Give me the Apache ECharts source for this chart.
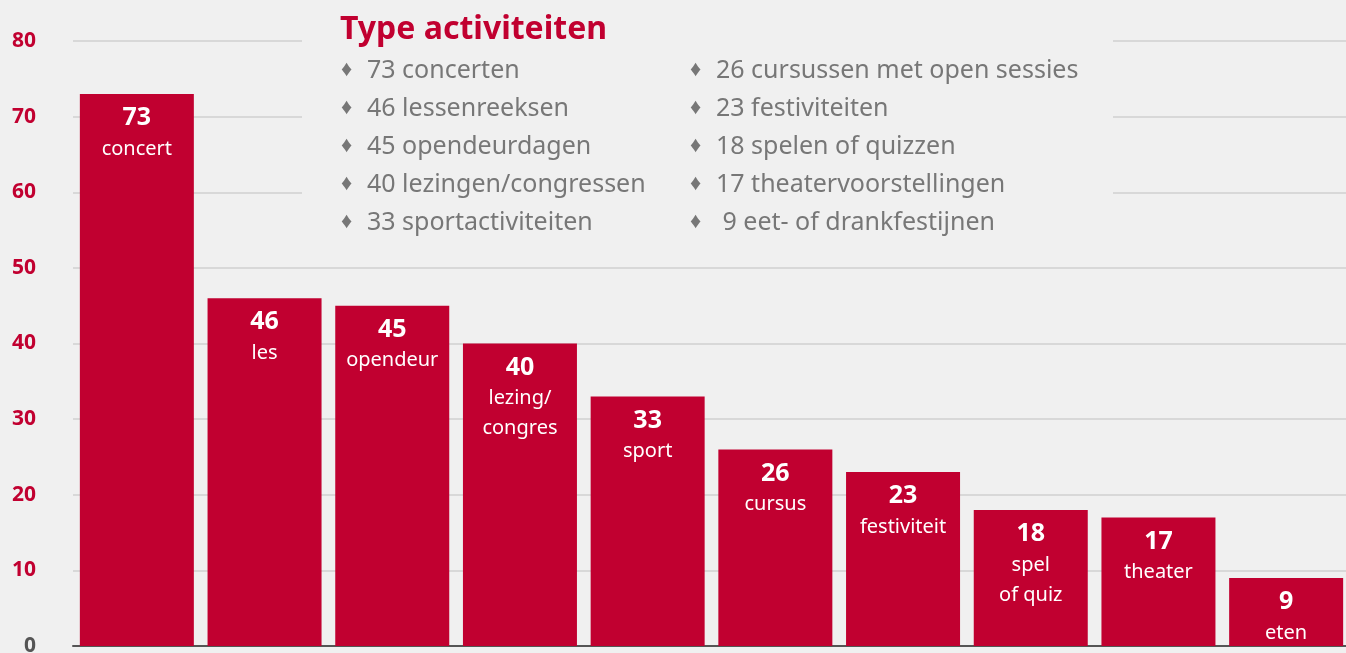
<!DOCTYPE html>
<html>
<head>
<meta charset="utf-8">
<script src="https://cdn.jsdelivr.net/npm/echarts@6/dist/echarts.min.js"></script>
<style>
  html,body{margin:0;padding:0;background:#f0f0f0;}
  #chart{width:1346px;height:653px;}
</style>
</head>
<body>
<div id="chart"></div>
<script>
const categories=['concert','les','opendeur','lezing/\ncongres','sport','cursus','festiviteit','spel\nof quiz','theater','eten'];
const values=[73,46,45,40,33,26,23,18,17,9];
const legendLeft=['73 concerten','46 lessenreeksen','45 opendeurdagen','40 lezingen/congressen','33 sportactiviteiten'];
const legendRight=['26 cursussen met open sessies','23 festiviteiten','18 spelen of quizzen','17 theatervoorstellingen',' 9 eet- of drankfestijnen'];
const yTicks=[0,10,20,30,40,50,60,70,80];

const red='#c10030';
const font='"Noto Sans", sans-serif';

const chart=echarts.init(document.getElementById('chart'));

// legend text block drawn on top of the grid
const legendGraphics=[];
function addCol(list,x){
    list.forEach((t,i)=>{
        legendGraphics.push({type:'text',left:x,top:59+i*38,z:11,style:{text:'♦',fill:'#777',font:'22px '+font}});
        legendGraphics.push({type:'text',left:x+26,top:58+i*38,z:11,style:{text:t,fill:'#777',font:'25px '+font}});
    });
}
addCol(legendLeft,341);
addCol(legendRight,690);

const option={
    backgroundColor:'#f0f0f0',
    animation:false,
    grid:{left:73,right:-4,top:41,bottom:7,outerBoundsMode:'none'},
    xAxis:{
        type:'category',
        data:categories,
        axisLine:{lineStyle:{color:'#555',width:2}},
        axisTick:{show:false},
        axisLabel:{show:false}
    },
    yAxis:{
        type:'value',
        min:yTicks[0],
        max:yTicks[yTicks.length-1],
        interval:10,
        axisLine:{show:false},
        axisTick:{show:false},
        splitLine:{lineStyle:{color:'#d8d8d8',width:2}},
        axisLabel:{
            margin:37,
            formatter:v=>v===0?'{z|0}':'{r|'+v+'}',
            rich:{
                r:{color:red,fontWeight:'bold',fontSize:21,fontFamily:font},
                z:{color:'#555',fontWeight:'bold',fontSize:21,fontFamily:font}
            }
        }
    },
    series:[{
        type:'bar',
        data:values,
        barWidth:114,
        itemStyle:{color:red},
        label:{
            show:true,
            position:'insideTop',
            distance:8,
            formatter:p=>'{v|'+p.value+'}\n'+p.name.split('\n').map(s=>'{n|'+s+'}').join('\n'),
            rich:{
                v:{color:'#fff',fontWeight:'bold',fontSize:25,fontFamily:font,lineHeight:32},
                n:{color:'#fff',fontSize:20,fontFamily:font,lineHeight:30}
            }
        }
    }],
    graphic:[
        {type:'rect',left:302,top:0,z:10,shape:{width:811,height:245},style:{fill:'#f0f0f0'}},
        {type:'text',left:340,top:14,z:11,style:{text:'Type activiteiten',fill:red,font:'bold 32px '+font}},
        ...legendGraphics
    ]
};

chart.setOption(option);
</script>
</body>
</html>
